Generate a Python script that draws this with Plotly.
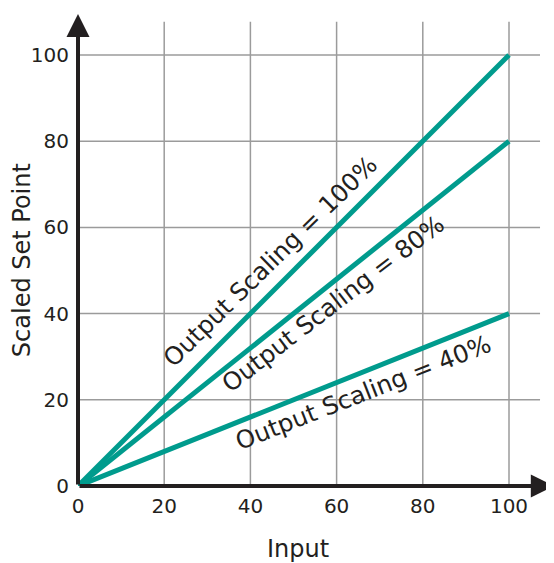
import plotly.graph_objects as go

inputs = [0, 100]
scaling_pct = [100, 80, 40]
labels = ["Output Scaling = 100%", "Output Scaling = 80%", "Output Scaling = 40%"]
tick_vals = [0, 20, 40, 60, 80, 100]
grid_vals = [20, 40, 60, 80, 100]

TEAL = "#009b8d"
DARK = "#231f20"
GRID = "#9b9b9b"
FONT = "DejaVu Sans"

fig = go.Figure()

for p in scaling_pct:
    fig.add_trace(go.Scatter(
        x=inputs, y=[v * p / 100 for v in inputs], mode="lines",
        line=dict(color=TEAL, width=5), showlegend=False, hoverinfo="skip",
        cliponaxis=False))

shapes = []
for g in grid_vals:
    shapes.append(dict(type="line", xref="x", yref="y", x0=g, x1=g, y0=0, y1=107.7,
                       line=dict(color=GRID, width=1.5), layer="below"))
    shapes.append(dict(type="line", xref="x", yref="y", x0=0, x1=107.2, y0=g, y1=g,
                       line=dict(color=GRID, width=1.5), layer="below"))
fig.update_layout(shapes=shapes)

# axes with arrows
fig.add_annotation(x=110.4, y=0, ax=0, ay=0, xref="x", yref="y", axref="x", ayref="y",
                   showarrow=True, arrowhead=2, arrowsize=1.15, arrowwidth=4,
                   arrowcolor=DARK, text="")
fig.add_annotation(x=0, y=109.5, ax=0, ay=0, xref="x", yref="y", axref="x", ayref="y",
                   showarrow=True, arrowhead=2, arrowsize=1.15, arrowwidth=4,
                   arrowcolor=DARK, text="")

# rotated labels
label_pos = [(44.5, 52.2, -44.5), (59.2, 42.3, -37.5), (66.2, 21.8, -21.5)]
for (lx, ly, ang), txt in zip(label_pos, labels):
    fig.add_annotation(x=lx, y=ly, xref="x", yref="y", text=txt, showarrow=False,
                       textangle=ang, font=dict(family=FONT, size=24.5, color=DARK))

# axis titles
fig.add_annotation(x=51, y=0, xref="x", yref="y", text="Input", yshift=-63,
                   showarrow=False, font=dict(family=FONT, size=24, color=DARK),
                   xanchor="center", yanchor="middle")
fig.add_annotation(x=0, y=52.4, xref="x", yref="y", text="Scaled Set Point", xshift=-56,
                   showarrow=False, textangle=-90, font=dict(family=FONT, size=24, color=DARK),
                   xanchor="center", yanchor="middle")

rng = 476 / 4.31
fig.update_xaxes(range=[0, rng], tickvals=tick_vals, showgrid=False, zeroline=False,
                 showline=False, ticks="", ticklabelstandoff=6,
                 tickfont=dict(family=FONT, size=20, color=DARK))
fig.update_yaxes(range=[0, rng], tickvals=tick_vals, showgrid=False, zeroline=False,
                 showline=False, ticks="", ticklabelstandoff=8,
                 tickfont=dict(family=FONT, size=20, color=DARK))

# page body has an 8px margin, so the figure is shifted by 8px
fig.update_layout(width=546, height=555, margin=dict(l=70, r=0, t=2, b=77),
                  plot_bgcolor="white", paper_bgcolor="white")

fig.write_html("out.html")
